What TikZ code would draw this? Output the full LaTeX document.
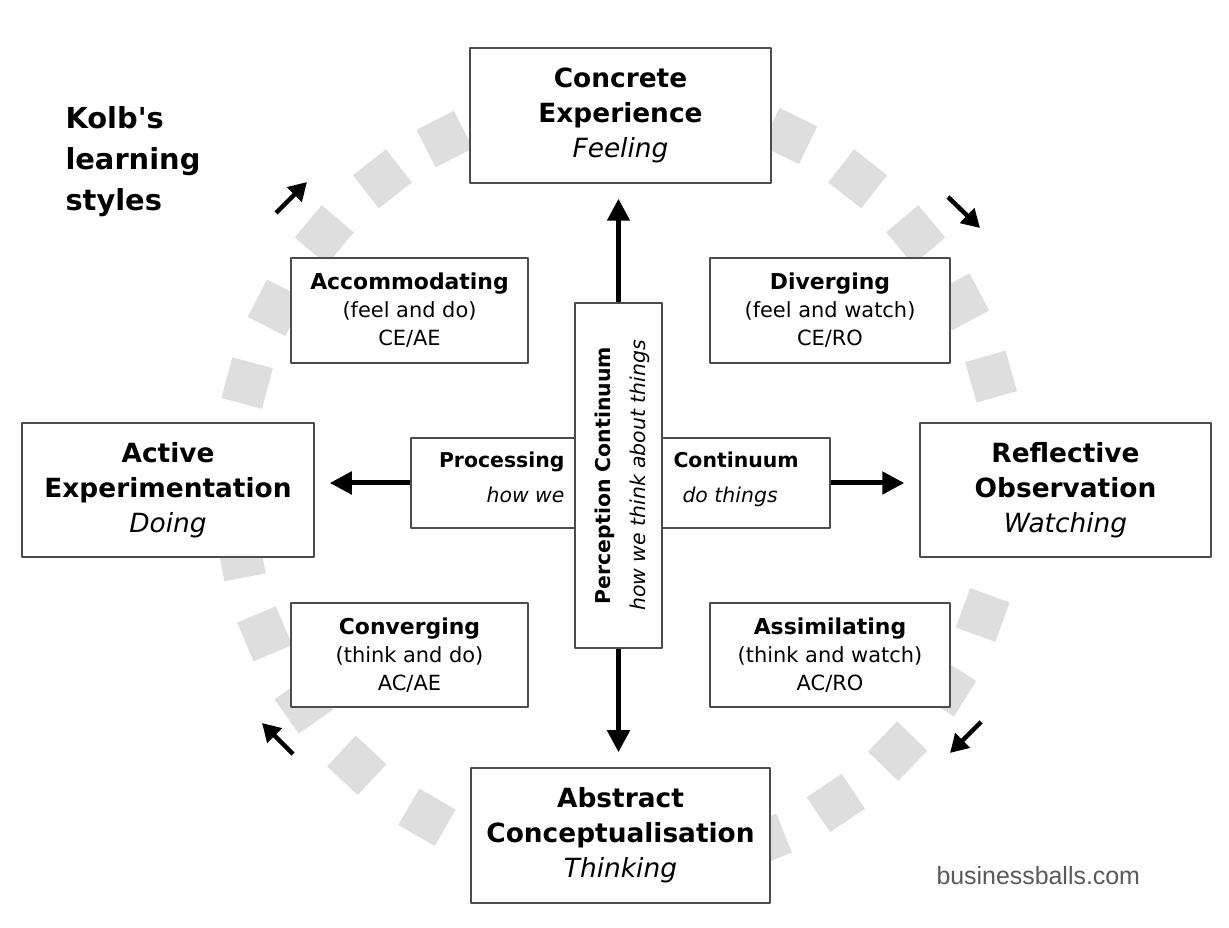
\documentclass[tikz,border=0pt]{standalone}
\usepackage{fontspec}
\setmainfont{DejaVu Sans}
\newfontfamily\creditfont{Liberation Sans}
\usetikzlibrary{arrows.meta,shapes}

\definecolor{boxgray}{rgb}{0.3,0.3,0.3}
\definecolor{ringgray}{rgb}{0.87,0.87,0.87}
\definecolor{creditgray}{rgb}{0.35,0.35,0.35}
\newcommand\stitle[1]{{\fontsize{22}{28}\selectfont\bfseries #1}}

\tikzset{
  bigbox/.style={draw=boxgray, fill=white, line width=1.5bp, align=center, inner sep=0pt,
    font=\fontsize{26.5}{35}\selectfont},
  stylebox/.style={draw=boxgray, fill=white, line width=1.5bp, align=center, inner sep=0pt,
    font=\fontsize{21}{28}\selectfont},
  midbox/.style={draw=boxgray, fill=white, line width=1.5bp, inner sep=0pt},
  midtext/.style={inner sep=0pt, font=\fontsize{20.5}{35}\selectfont},
  bigarrow/.style={-{Triangle[length=22bp,width=22bp]}, line width=5bp, shorten >=15bp},
  turnarrow/.style={-{Triangle[length=18bp,width=20bp]}, line width=4.5bp},
  ringsq/.style={fill=ringgray},
}

\begin{document}
\begin{tikzpicture}[line join=bevel]
  \pgfsetlinewidth{1bp}
  \useasboundingbox (0bp,0bp) rectangle (1229bp,928bp);
%%
\begin{scope}
  \definecolor{fillcol}{rgb}{1.0,1.0,1.0};
  \pgfsetfillcolor{fillcol}
  \fill (0bp,0bp) -- (0bp,928bp) -- (1229bp,928bp) -- (1229bp,0bp) -- cycle;
\end{scope}
  % Ring of squares
  \foreach \a in {64,52,40,28,16,-20,-32,-44,-56,-68,117,128,140,153,165,191,203,215,227,240}
    \fill[ringsq, shift={({620bp+386bp*cos(\a)},{445bp+386bp*sin(\a)})}, rotate=\a]
      (-21bp,-21bp) rectangle (21bp,21bp);
  % Node: title
  \node[anchor=north west, align=left, inner sep=0pt, font=\fontsize{29}{41}\selectfont\bfseries]
    (title) at (65bp,822bp) {Kolb\textquotesingle s\\learning\\styles};
  % Node: ce
  \node[bigbox, minimum width=301bp, minimum height=135bp] (ce) at (620.5bp,812.5bp)
    {\textbf{Concrete}\\\textbf{Experience}\\\textit{Feeling}};
  % Node: ac
  \node[bigbox, minimum width=299bp, minimum height=135bp] (ac) at (620.5bp,92.5bp)
    {\textbf{Abstract}\\\textbf{Conceptualisation}\\\textit{Thinking}};
  % Node: ae
  \node[bigbox, minimum width=292bp, minimum height=134bp] (ae) at (168bp,438bp)
    {\textbf{Active}\\\textbf{Experimentation}\\\textit{Doing}};
  % Node: ro
  \node[bigbox, minimum width=291bp, minimum height=134bp] (ro) at (1065.5bp,438bp)
    {\textbf{Reflective}\\\textbf{Observation}\\\textit{Watching}};
  % Node: acc
  \node[stylebox, minimum width=237bp, minimum height=105bp] (acc) at (409.5bp,617.5bp)
    {\stitle{Accommodating}\\(feel and do)\\CE/AE};
  % Node: div
  \node[stylebox, minimum width=240bp, minimum height=105bp] (div) at (830bp,617.5bp)
    {\stitle{Diverging}\\(feel and watch)\\CE/RO};
  % Node: con
  \node[stylebox, minimum width=237bp, minimum height=104bp] (con) at (409.5bp,273bp)
    {\stitle{Converging}\\(think and do)\\AC/AE};
  % Node: asm
  \node[stylebox, minimum width=240bp, minimum height=104bp] (asm) at (830bp,273bp)
    {\stitle{Assimilating}\\(think and watch)\\AC/RO};
  % Node: proc
  \node[midbox, minimum width=419bp, minimum height=90bp] (proc) at (620.5bp,445bp) {};
  \node[midtext, anchor=east, align=right] (procl) at (565bp,451bp)
    {\textbf{Processing}\\\textit{how we}};
  \node[midtext, anchor=west, align=left] (procr) at (673bp,449bp)
    {\textbf{Continuum}\\\hspace*{9bp}\textit{do things}};
  % Node: perc
  \node[midbox, minimum width=87bp, minimum height=345bp] (perc) at (618.5bp,452.5bp) {};
  \node[midtext, rotate=90, align=center] (perctxt) at (622bp,452.5bp)
    {\textbf{Perception Continuum}\\\textit{how we think about things}};
  % Edge: perc -> ce
  \draw[bigarrow] (perc.north) -- (perc.north |- ce.south);
  % Edge: perc -> ac
  \draw[bigarrow] (perc.south) -- (perc.south |- ac.north);
  % Edge: proc -> ae
  \draw[bigarrow] (proc.west) -- (proc.west -| ae.east);
  % Edge: proc -> ro
  \draw[bigarrow] (proc.east) -- (proc.east -| ro.west);
  % Cycle arrows
  \draw[turnarrow] (276bp,715bp) -- (307bp,746bp);
  \draw[turnarrow] (948bp,731bp) -- (980bp,700bp);
  \draw[turnarrow] (981bp,206bp) -- (950bp,175bp);
  \draw[turnarrow] (293bp,174bp) -- (262bp,205bp);
  % Node: credit
  \node[anchor=base west, inner sep=0pt, text=creditgray, font=\creditfont\fontsize{25}{30}\selectfont]
    (credit) at (936bp,43bp) {businessballs.com};
%
\end{tikzpicture}
\end{document}
